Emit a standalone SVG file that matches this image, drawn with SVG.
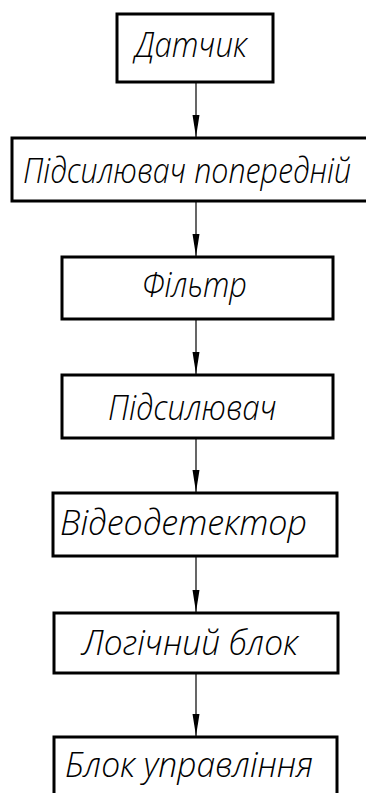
<svg xmlns="http://www.w3.org/2000/svg" width="366" height="793" viewBox="0 0 366 793">
<defs>
<style>
.box{fill:#fff;stroke:#000;stroke-width:3}
.lbl{font-family:"Open Sans","DejaVu Sans Condensed","Liberation Sans",sans-serif;font-style:italic;font-size:34px;fill:#000;font-weight:300}
.con{stroke:#000;stroke-width:1.2;fill:none;marker-end:url(#arr)}
</style>
<marker id="arr" markerUnits="userSpaceOnUse" markerWidth="24" markerHeight="8" refX="22" refY="4" orient="auto">
<path d="M0,0.5 L22,4 L0,7.5 z" fill="#000"/>
</marker>
</defs>
<rect width="366" height="793" fill="#fff"/>
<g id="connectors">
<line class="con" x1="196" y1="82" x2="196" y2="137"/>
<line class="con" x1="196" y1="201" x2="196" y2="256"/>
<line class="con" x1="196" y1="319" x2="196" y2="374"/>
<line class="con" x1="196" y1="438" x2="196" y2="492"/>
<line class="con" x1="196" y1="556" x2="196" y2="612"/>
<line class="con" x1="196" y1="673" x2="196" y2="736"/>
</g>
<g id="n1">
<rect class="box" x="117" y="14" width="156" height="68"/>
<text class="lbl" x="135" y="57" textLength="112" lengthAdjust="spacingAndGlyphs">Датчик</text>
</g>
<g id="n2">
<rect class="box" x="12" y="138" width="370" height="63"/>
<text class="lbl" x="23" y="183" textLength="328" lengthAdjust="spacingAndGlyphs">Підсилювач попередній</text>
</g>
<g id="n3">
<rect class="box" x="62" y="257" width="271" height="62"/>
<text class="lbl" x="142" y="297" textLength="105" lengthAdjust="spacingAndGlyphs">Фільтр</text>
</g>
<g id="n4">
<rect class="box" x="62" y="375" width="271" height="63"/>
<text class="lbl" x="108" y="420" textLength="169" lengthAdjust="spacingAndGlyphs">Підсилювач</text>
</g>
<g id="n5">
<rect class="box" x="53" y="493" width="284" height="63"/>
<text class="lbl" x="60" y="535" textLength="247" lengthAdjust="spacingAndGlyphs">Відеодетектор</text>
</g>
<g id="n6">
<rect class="box" x="54" y="613" width="284" height="60"/>
<text class="lbl" x="82" y="655" textLength="216" lengthAdjust="spacingAndGlyphs">Логічний блок</text>
</g>
<g id="n7">
<rect class="box" x="54" y="737" width="283" height="70"/>
<text class="lbl" x="65" y="777" textLength="248" lengthAdjust="spacingAndGlyphs">Блок управління</text>
</g>
</svg>
